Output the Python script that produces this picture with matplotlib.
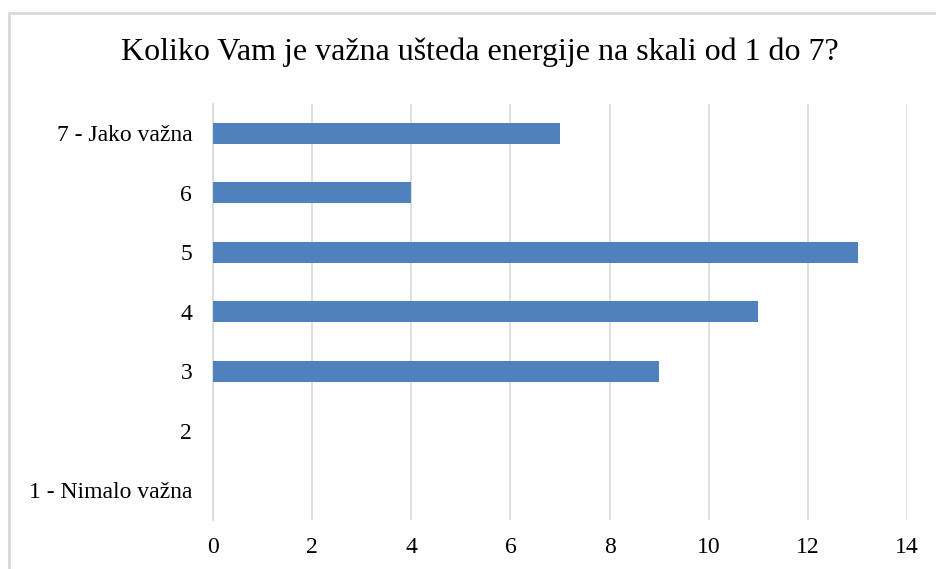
import matplotlib.pyplot as plt
from matplotlib.patches import Rectangle

plt.rcParams['font.family'] = ['Liberation Serif', 'DejaVu Serif']

categories = ['1 - Nimalo važna', '2', '3', '4', '5', '6', '7 - Jako važna']
counts = [0, 0, 9, 11, 13, 4, 7]

fig = plt.figure(figsize=(9.36, 5.69), dpi=100)
ax = fig.add_axes([0.2276, 0.0861, 0.7415, 0.732])

ax.barh(categories, counts, height=0.36, color='#4F81BD', zorder=3)

ax.set_xlim(0, 14)
ax.set_ylim(-0.5, len(categories) - 0.5)
ax.set_xticks(range(0, 15, 2))
ax.grid(axis='x', color='#D9D9D9', linewidth=1.2, zorder=0)
ax.grid(axis='y', visible=False)

for side in ['top', 'right', 'bottom']:
    ax.spines[side].set_visible(False)
ax.spines['left'].set_color('#D9D9D9')
ax.spines['left'].set_linewidth(1.2)
ax.tick_params(axis='both', length=0, labelsize=17, colors='black')
ax.tick_params(axis='x', pad=12)
ax.tick_params(axis='y', pad=15)

fig.text(0.513, 0.908, 'Koliko Vam je važna ušteda energije na skali od 1 do 7?',
         ha='center', va='center', fontsize=23)

# light grey frame around the chart area
fig.patches.append(Rectangle((9 / 936, -0.1), 1.2, 1.1 - 13 / 569,
                             transform=fig.transFigure, fill=False,
                             edgecolor='#D9D9D9', linewidth=2))

fig.savefig('out.png', dpi=100)
